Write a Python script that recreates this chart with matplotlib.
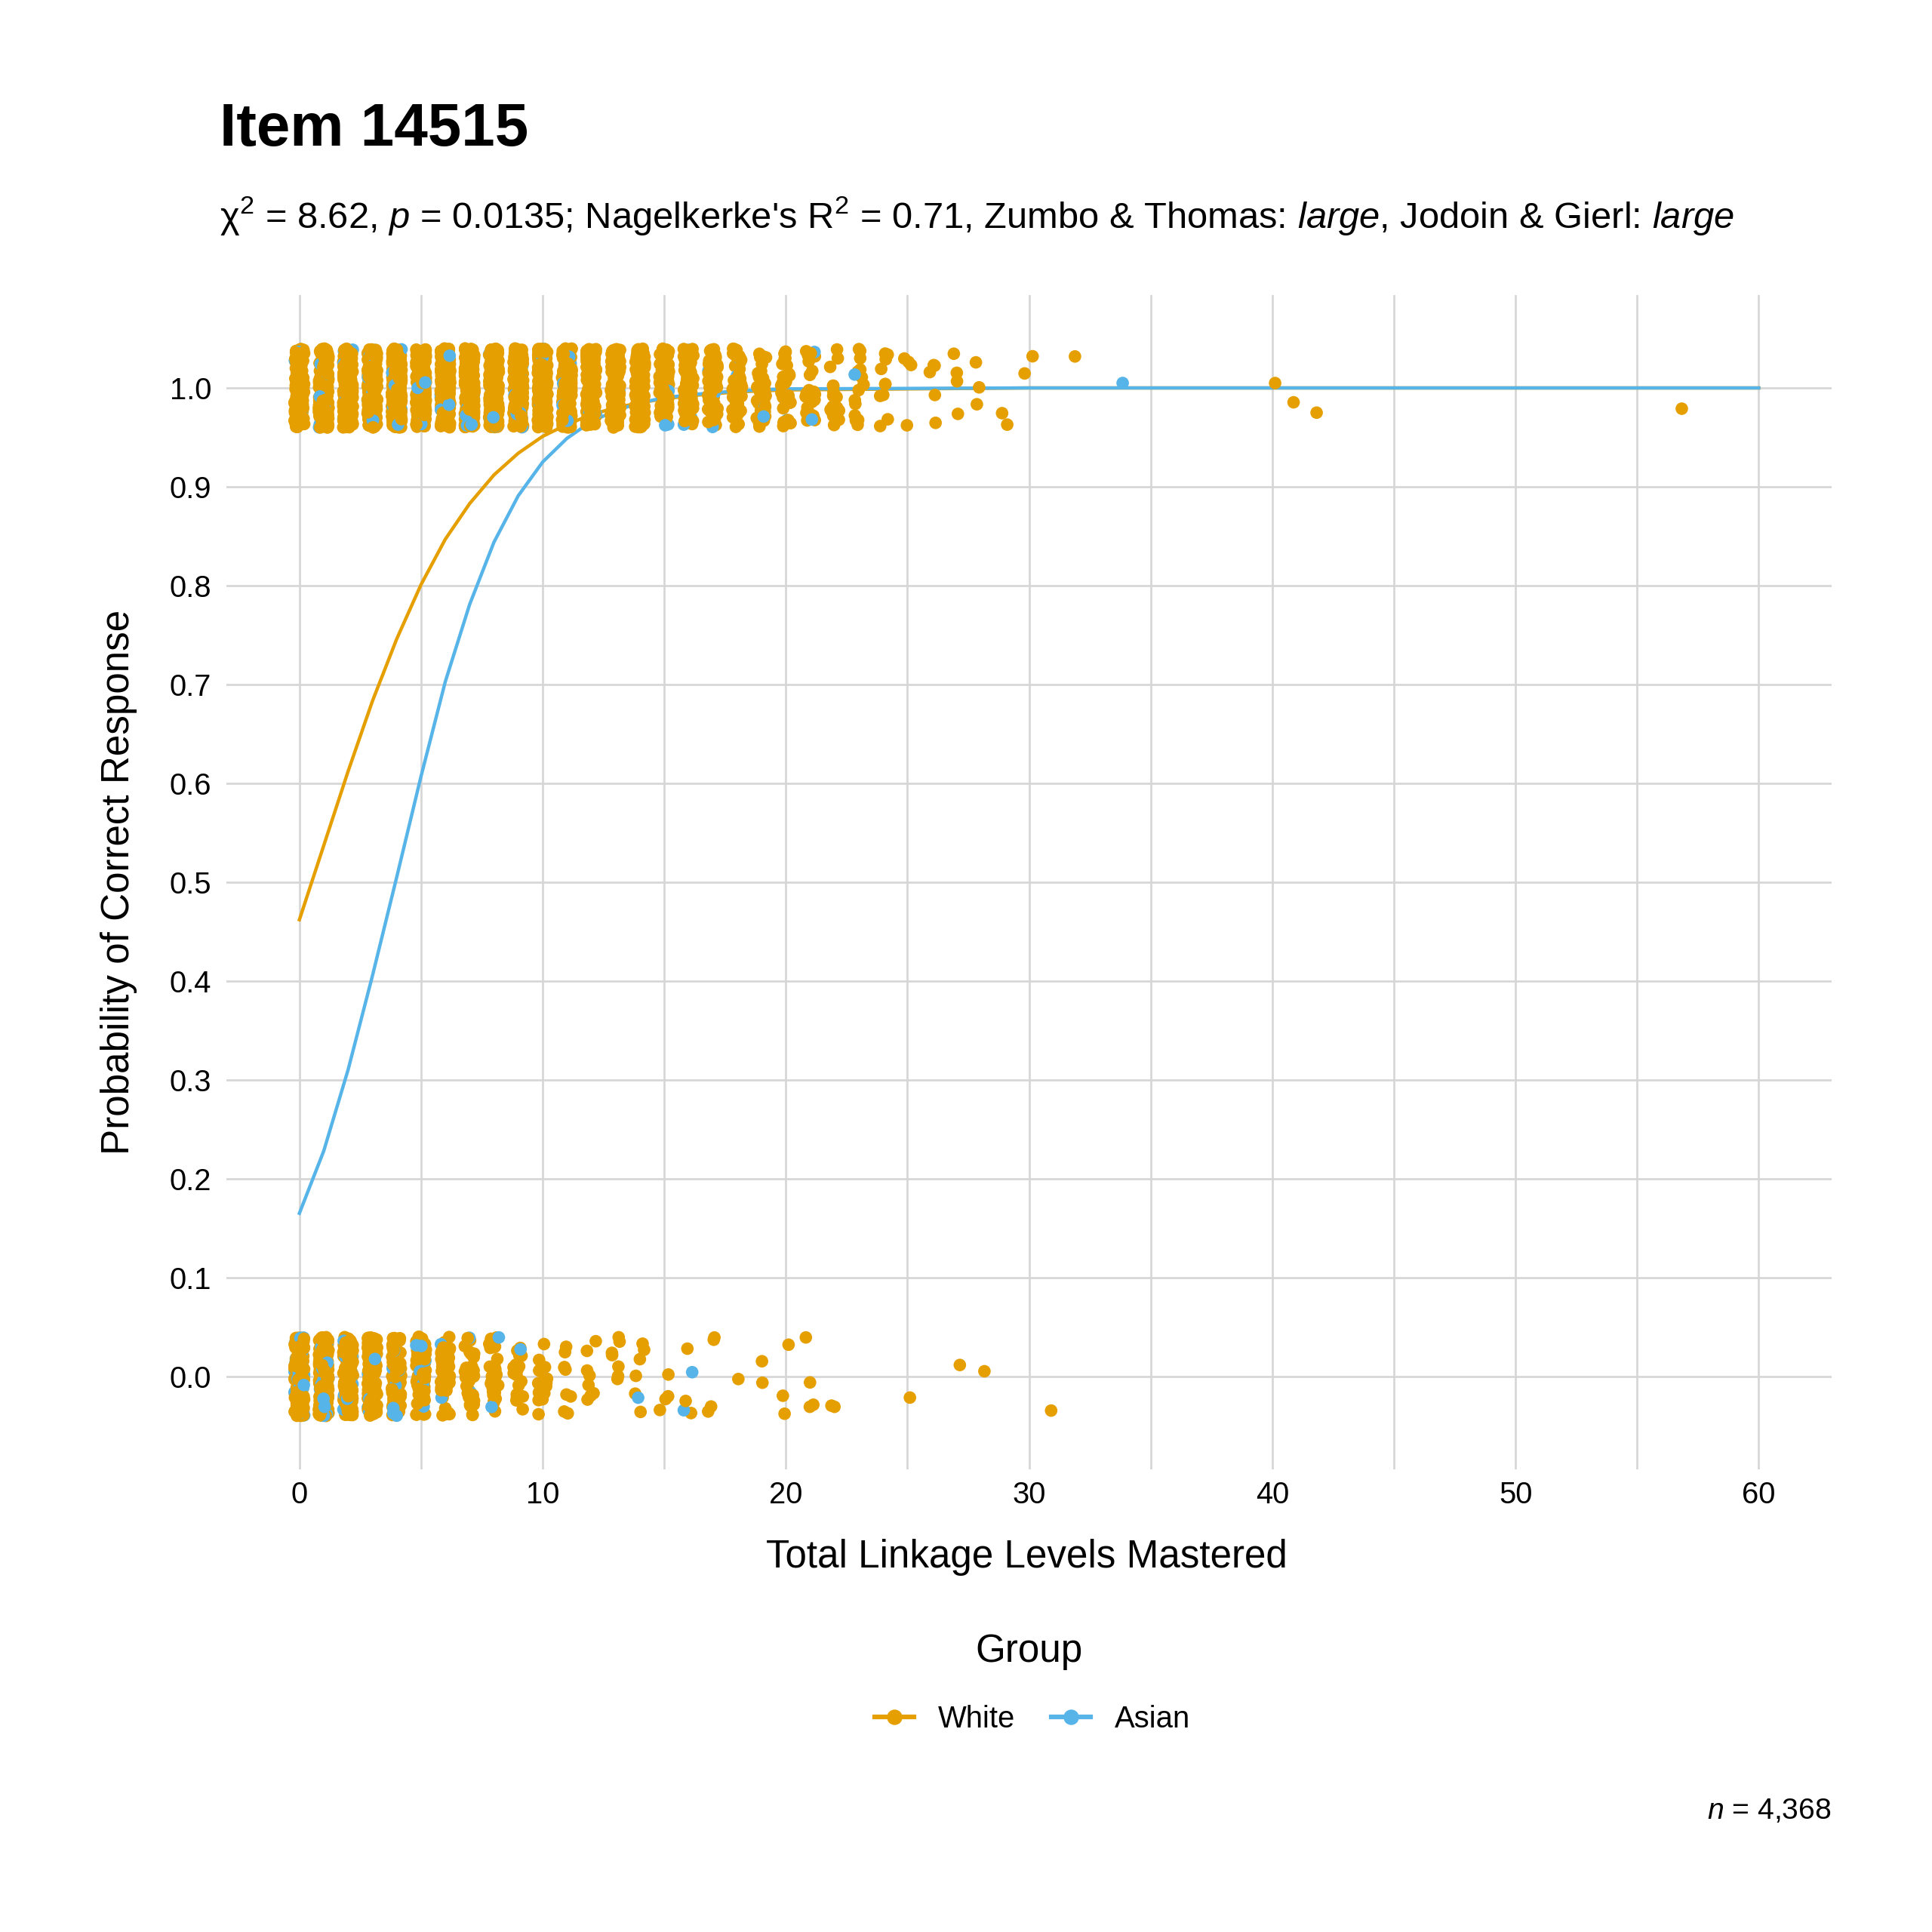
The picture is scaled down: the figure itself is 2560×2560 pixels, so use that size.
import numpy as np
import matplotlib
matplotlib.use("Agg")
import matplotlib.pyplot as plt
from matplotlib.lines import Line2D

plt.rcParams['font.family'] = ['Liberation Sans', 'DejaVu Sans']
plt.rcParams['mathtext.fontset'] = 'custom'
plt.rcParams['mathtext.rm'] = 'Liberation Sans'
plt.rcParams['mathtext.it'] = 'Liberation Sans:italic'
plt.rcParams['mathtext.bf'] = 'Liberation Sans:bold'

# ---------------- data ----------------
groups = ["White", "Asian"]
colors = {"White": "#E69F00", "Asian": "#56B4E9"}

# counts of students per total linkage levels mastered, by response
white_correct_x = [0, 1, 2, 3, 4, 5, 6, 7, 8, 9, 10, 11, 12, 13, 14, 15, 16, 17, 18, 19,
                   20, 21, 22, 23, 24, 25, 26, 27, 28, 29, 30, 32, 40, 41, 42, 57]
white_correct_n = [140, 185, 215, 225, 230, 228, 220, 210, 200, 185, 170, 155, 140, 120, 105,
                   90, 75, 58, 48, 38, 30, 24, 19, 14, 10, 4, 5, 4, 3, 2, 2, 1, 1, 1, 1, 1]
white_incorrect_x = [0, 1, 2, 3, 4, 5, 6, 7, 8, 9, 10, 11, 12, 13, 14, 15, 16, 17, 18, 19,
                     20, 21, 22, 25, 27, 28, 31]
white_incorrect_n = [160, 150, 130, 108, 83, 70, 50, 38, 28, 20, 15, 9, 8, 7, 6, 4, 3, 4, 1, 2,
                     3, 4, 2, 1, 1, 1, 1]
asian_correct_x = [0, 1, 2, 3, 4, 5, 6, 7, 8, 9, 10, 11, 12, 13, 14, 15, 16, 17, 18, 19, 20, 21, 23, 34]
asian_correct_n = [8, 10, 14, 15, 16, 16, 15, 14, 12, 12, 10, 8, 7, 6, 5, 4, 3, 3, 2, 2, 2, 2, 1, 1]
asian_incorrect_x = [0, 1, 2, 3, 4, 5, 6, 7, 8, 9, 14, 16]
asian_incorrect_n = [30, 25, 18, 12, 8, 6, 4, 3, 2, 1, 1, 2]

# fitted probability curves
curve_x = [0, 1, 2, 3, 4, 5, 6, 7, 8, 9, 10, 11, 12, 13, 14, 15, 16, 17, 18, 19, 20, 30, 40, 50, 60]
white_curve = [0.462, 0.537, 0.612, 0.683, 0.746, 0.801, 0.847, 0.883, 0.912, 0.934, 0.951,
               0.963, 0.973, 0.980, 0.985, 0.989, 0.992, 0.994, 0.996, 0.997, 0.998,
               1.0, 1.0, 1.0, 1.0]
asian_curve = [0.165, 0.228, 0.310, 0.405, 0.505, 0.607, 0.703, 0.781, 0.844, 0.891, 0.925,
               0.949, 0.966, 0.977, 0.985, 0.990, 0.993, 0.995, 0.997, 0.998, 0.999,
               1.0, 1.0, 1.0, 1.0]

x_ticks = [0, 10, 20, 30, 40, 50, 60]
y_ticks = [0.0, 0.1, 0.2, 0.3, 0.4, 0.5, 0.6, 0.7, 0.8, 0.9, 1.0]
y_tick_labels = ["0.0", "0.1", "0.2", "0.3", "0.4", "0.5", "0.6", "0.7", "0.8", "0.9", "1.0"]

title = "Item 14515"
subtitle = ("χ$^2$ = 8.62, $p$ = 0.0135; Nagelkerke's R$^2$ = 0.71, "
            "Zumbo & Thomas: $large$, Jodoin & Gierl: $large$")
caption = "$n$ = 4,368"

# ---------------- build point table ----------------
rng = np.random.default_rng(14515)
xs, ys, cs = [], [], []
for grp, cx, cn, ix, inn in [
    ("White", white_correct_x, white_correct_n, white_incorrect_x, white_incorrect_n),
    ("Asian", asian_correct_x, asian_correct_n, asian_incorrect_x, asian_incorrect_n),
]:
    xc = np.repeat(cx, cn)
    xi = np.repeat(ix, inn)
    xs.append(np.concatenate([xc, xi]).astype(float))
    ys.append(np.concatenate([np.ones(len(xc)), np.zeros(len(xi))]))
    cs += [colors[grp]] * (len(xc) + len(xi))
xs = np.concatenate(xs)
ys = np.concatenate(ys)
cs = np.array(cs)
# jitter (display only)
xj = xs + rng.uniform(-0.2, 0.2, len(xs))
yj = ys + rng.uniform(-0.04, 0.04, len(ys))
order = rng.permutation(len(xs))

# ---------------- figure ----------------
fig = plt.figure(figsize=(8, 8), dpi=320)
ax = fig.add_axes([0.1172, 0.2395, 0.8309, 0.6078])

ax.plot(curve_x, white_curve, color=colors["White"], lw=1.0, zorder=2)
ax.plot(curve_x, asian_curve, color=colors["Asian"], lw=1.0, zorder=2)
ax.scatter(xj[order], yj[order], c=cs[order], s=14, linewidths=0, zorder=3)

ax.set_xlim(-3, 63)
ax.set_ylim(-0.094, 1.094)
ax.set_xticks(x_ticks)
ax.set_xticks([5, 15, 25, 35, 45, 55], minor=True)
ax.set_yticks(y_ticks)
ax.set_yticklabels(y_tick_labels)
ax.grid(True, which='both', color='#d6d6d6', lw=0.6, zorder=0)
ax.set_axisbelow(True)
for s in ax.spines.values():
    s.set_visible(False)
ax.tick_params(axis='both', which='both', length=0, labelsize=9, colors='black')
ax.tick_params(axis='y', pad=4.5)
ax.tick_params(axis='x', pad=3.5)

fig.text(0.1136, 0.9246, title, fontsize=18, fontweight='bold', ha='left', va='baseline')
fig.text(0.1138, 0.882, subtitle, fontsize=11, ha='left', va='baseline')
fig.text(0.0615, 0.5434, "Probability of Correct Response", fontsize=11.5,
         rotation=90, ha='center', va='center')
fig.text(0.5315, 0.194, "Total Linkage Levels Mastered", fontsize=11.5, ha='center', va='center')
fig.text(0.5326, 0.145, "Group", fontsize=11.5, ha='center', va='center')

handles = [Line2D([], [], color=colors[g], lw=1.4, marker='o', markersize=3.6) for g in groups]
fig.legend(handles, groups, loc='center', bbox_to_anchor=(0.5345, 0.110), ncol=2,
           frameon=False, fontsize=9, handlelength=1.3, handletextpad=0.8, columnspacing=1.2)
fig.text(0.948, 0.0624, caption, fontsize=8.8, ha='right', va='center')

fig.savefig("out.png", dpi=320)
